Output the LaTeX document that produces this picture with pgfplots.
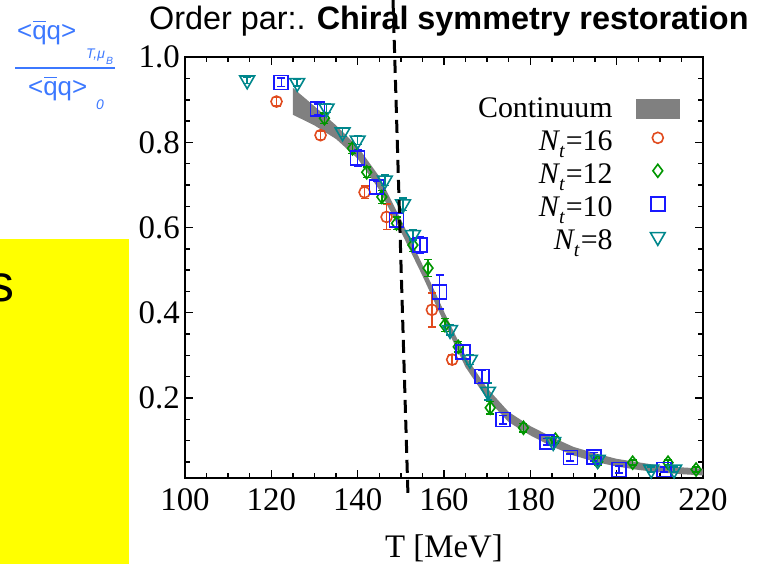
\documentclass[border=0pt]{standalone}
\usepackage{pgfplots}
\pgfplotsset{compat=1.18}
\usepackage{fontspec}
\setmainfont{Liberation Serif}
\newfontfamily\arial{Liberation Sans}
\definecolor{c16}{RGB}{225,75,30}
\definecolor{c12}{RGB}{0,150,0}
\definecolor{c10}{RGB}{25,25,255}
\definecolor{c8}{RGB}{0,135,140}
\definecolor{band}{RGB}{128,128,128}
\definecolor{fracblue}{RGB}{60,120,255}
\definecolor{slideyellow}{RGB}{255,255,0}
\newcommand{\Nt}[1]{\textit{N}\kern-0.04em\raisebox{-0.22em}{\fontsize{20}{20}\selectfont\textit{t}}\kern0.03em=#1}
\newcommand{\qbar}{\rlap{\hspace{0.04em}\rule[0.68em]{0.47em}{1.4bp}}q}
\begin{document}
\begin{tikzpicture}[x=1bp,y=1bp]
\path[use as bounding box] (0,0) rectangle (762,564);
\fill[slideyellow] (0,0) rectangle (129,325);
\node[anchor=base east, inner sep=0pt, font=\arial\fontsize{52}{52}\selectfont] at (15,262) {s};
\node[anchor=base west, inner sep=0pt, font=\arial\fontsize{32.5}{32.5}\selectfont] at (149,534) {Order par:.\hspace{11bp}\textbf{Chiral symmetry restoration}};
% fraction
\node[anchor=base west, inner sep=0pt, text=fracblue, font=\arial\fontsize{26}{26}\selectfont] at (17,524) {<\qbar q>};
\node[anchor=base west, inner sep=0pt, text=fracblue, font=\arial\itshape\fontsize{14}{14}\selectfont] at (86,505) {T,μ};
\node[anchor=base west, inner sep=0pt, text=fracblue, font=\arial\itshape\fontsize{10.5}{10.5}\selectfont] at (106,499) {B};
\draw[fracblue, line width=1.5bp] (15,496) -- (115,496);
\node[anchor=base west, inner sep=0pt, text=fracblue, font=\arial\fontsize{26}{26}\selectfont] at (28,468) {<\qbar q>};
\node[anchor=base west, inner sep=0pt, text=fracblue, font=\arial\itshape\fontsize{14}{14}\selectfont] at (96,454) {0};
\begin{axis}[
  at={(185bp,86bp)}, anchor=south west,
  scale only axis, width=518bp, height=420.7bp,
  xmin=100, xmax=220, ymin=0.012, ymax=1.0,
  axis line style={line width=1.8bp},
  tick style={black, line width=1.4bp},
  major tick length=8bp, minor tick length=5bp,
  tick align=inside,
  xtick={100,120,140,160,180,200,220},
  xticklabels={100,120,140,160,180,200,220},
  minor xtick={105,110,115,125,130,135,145,150,155,165,170,175,185,190,195,205,210,215},
  ytick={0.2,0.4,0.6,0.8,1.0},
  yticklabels={0.2,0.4,0.6,0.8,1.0},
  minor ytick={0.05,0.1,0.15,0.25,0.3,0.35,0.45,0.5,0.55,0.65,0.7,0.75,0.85,0.9,0.95},
  ticklabel style={font=\fontsize{33}{33}\selectfont},
  xticklabel style={inner sep=0pt, yshift=-10bp},
  yticklabel style={inner sep=0pt, xshift=-5bp},
  xlabel={T [MeV]},
  xlabel style={font=\fontsize{33}{33}\selectfont, at={(axis description cs:0.5,-0.19)}, anchor=base},
  legend style={draw=none, fill=none, inner sep=0pt, outer sep=0pt,
    at={(0.9556,0.906)}, anchor=north east,
    font=\fontsize{30}{30}\selectfont, row sep=5bp, column sep=23bp,
    nodes={inner sep=0pt, text height=21bp, text depth=7bp}},
  legend cell align=right, legend plot pos=right,
  legend image code/.code={\draw[#1] plot coordinates {(22bp,6bp)}; \path (0bp,0bp) (44bp,0bp);},
  error bars/error bar style={line width=1.5bp},
  error bars/error mark options={rotate=90, mark size=4bp, line width=1.5bp},
]
\addplot[fill=band, draw=none, legend image code/.code={\fill[band] (0bp,-8bp) rectangle (44bp,12bp);}] coordinates {
(125,0.928) (130,0.885) (135,0.84) (140,0.79) (145,0.72) (150,0.619) (155,0.513) (160,0.403) (165,0.298) (170,0.223) (175,0.167) (180,0.134) (185,0.108) (190,0.085) (195,0.07) (200,0.057) (205,0.049) (210,0.041) (215,0.037) (220,0.034)
(220,0.018) (215,0.021) (210,0.025) (205,0.031) (200,0.039) (195,0.05) (190,0.065) (185,0.086) (180,0.112) (175,0.143) (170,0.197) (165,0.272) (160,0.377) (155,0.487) (150,0.591) (145,0.689) (140,0.762) (135,0.808) (130,0.84) (125,0.865)
} -- cycle;
\addlegendentry{Continuum}
\addplot[only marks, c16, mark=o, mark size=5.5bp, mark options={line width=1.6bp},
  error bars/.cd, y dir=both, y explicit] coordinates {
(121.2,0.896) +- (0,0.01)
(131.4,0.817) +- (0,0.01)
(141.6,0.683) +- (0,0.015)
(146.7,0.625) +- (0,0.03)
(157.2,0.407) +- (0,0.04)
(161.9,0.29) +- (0,0.012)
};
\addlegendentry{\Nt{16}}
\addplot[only marks, c12, mark=diamond, mark size=6.5bp, mark options={line width=1.6bp},
  error bars/.cd, y dir=both, y explicit] coordinates {
(132.3,0.857) +- (0,0.012)
(138.8,0.786) +- (0,0.012)
(142.1,0.73) +- (0,0.012)
(145.6,0.672) +- (0,0.015)
(149.0,0.61) +- (0,0.015)
(152.8,0.559) +- (0,0.015)
(156.3,0.505) +- (0,0.02)
(160.2,0.371) +- (0,0.015)
(163.3,0.32) +- (0,0.012)
(170.7,0.177) +- (0,0.015)
(178.4,0.13) +- (0,0.01)
(185.8,0.102) +- (0,0.008)
(195.6,0.05) +- (0,0.008)
(203.7,0.048) +- (0,0.006)
(211.9,0.048) +- (0,0.006)
(218.4,0.032) +- (0,0.006)
};
\addlegendentry{\Nt{12}}
\addplot[only marks, c10, mark=square, mark size=7bp, mark options={line width=1.6bp},
  error bars/.cd, y dir=both, y explicit] coordinates {
(122.3,0.941) +- (0,0.01)
(130.7,0.878) +- (0,0.012)
(140.0,0.763) +- (0,0.02)
(144.4,0.695) +- (0,0.015)
(149.0,0.618) +- (0,0.015)
(154.4,0.559) +- (0,0.02)
(159.0,0.449) +- (0,0.04)
(164.4,0.308) +- (0,0.015)
(168.8,0.25) +- (0,0.015)
(173.7,0.149) +- (0,0.01)
(183.9,0.097) +- (0,0.008)
(189.3,0.06) +- (0,0.008)
(194.7,0.062) +- (0,0.01)
(200.5,0.032) +- (0,0.008)
(211.0,0.032) +- (0,0.006)
};
\addlegendentry{\Nt{10}}
\addplot[only marks, c8, mark=triangle, mark size=8.5bp, mark options={rotate=180, line width=1.6bp},
  error bars/.cd, y dir=both, y explicit] coordinates {
(114.4,0.946) +- (0,0.008)
(126.0,0.94) +- (0,0.008)
(132.8,0.88) +- (0,0.01)
(136.5,0.824) +- (0,0.01)
(140.0,0.805) +- (0,0.01)
(146.3,0.711) +- (0,0.012)
(150.5,0.655) +- (0,0.015)
(152.8,0.583) +- (0,0.012)
(161.4,0.36) +- (0,0.012)
(166.0,0.29) +- (0,0.012)
(170.2,0.215) +- (0,0.02)
(185.3,0.097) +- (0,0.008)
(195.6,0.055) +- (0,0.008)
(208.0,0.032) +- (0,0.006)
(213.3,0.032) +- (0,0.006)
};
\addlegendentry{\Nt{8}}
\end{axis}
\draw[black, line width=3bp, dash pattern=on 13bp off 7bp] (393,564) -- (408,68);
\end{tikzpicture}
\end{document}
